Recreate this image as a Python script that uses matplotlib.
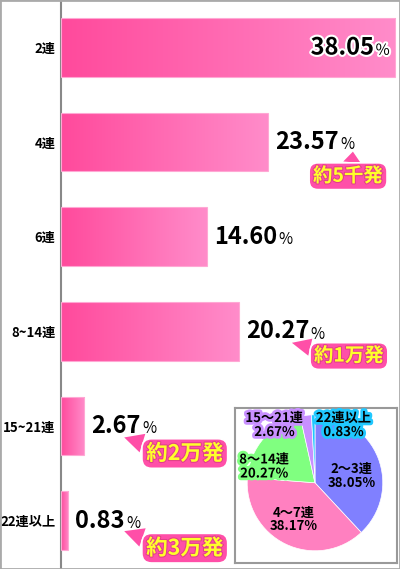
import matplotlib
matplotlib.use('Agg')
import matplotlib.pyplot as plt
import matplotlib.patheffects as pe
from matplotlib.colors import LinearSegmentedColormap
from matplotlib.patches import Rectangle
import numpy as np

plt.rcParams['font.family'] = ['Noto Sans CJK JP', 'DejaVu Sans']

# bar chart data
categories = ['2連', '4連', '6連', '8~14連', '15~21連', '22連以上']
percents = [38.05, 23.57, 14.60, 20.27, 2.67, 0.83]
# lengths as drawn in the picture (6連 bar is drawn longer than its label says)
bar_lengths = [38.05, 23.57, 16.6, 20.27, 2.67, 0.83]
callouts = [None, '約5千発', None, '約1万発', '約2万発', '約3万発']

# pie inset data
pie_labels = ['2～3連', '4～7連', '8～14連', '15～21連', '22連以上']
pie_values = [38.05, 38.17, 20.27, 2.67, 0.83]
pie_colors = ['#8080ff', '#ff80c0', '#80ff80', '#c890ff', '#20c8ff']

# layout bits
# callout: (box centre x, box centre dy, tip x, tip dy, relpos, fontsize)
callout_layout = {
    1: (32.7, 0.36, 33.25, 0.10, (0.55, 1.0), 14),
    3: (32.8, 0.26, 26.3, 0.12, (0.08, 0.85), 14),
    4: (14.1, 0.29, 7.2, 0.12, (0.08, 0.85), 15.5),
    5: (14.1, 0.29, 7.2, 0.11, (0.08, 0.85), 15.5),
}
pie_text_pos = [(0.54, 0.10), (-0.31, -0.54), (-0.75, 0.24), (-0.60, 0.85), (0.42, 0.85)]
pie_strokes = [None, None, '#80ff80', '#c890ff', '#20c8ff']

W, H = 400, 569
fig = plt.figure(figsize=(W / 100, H / 100), dpi=100)
fig.patches.append(Rectangle((0, 0), 1, 1, transform=fig.transFigure,
                             fill=False, ec='#aaaaaa', lw=2))

ax = fig.add_axes([61 / W, 0, 338 / W, 1])
ypos = np.arange(len(categories))
bars = ax.barh(ypos, bar_lengths, height=0.62, color='none',
               edgecolor='#ffa8d4', lw=0.8, zorder=3)

# horizontal pink gradient inside each bar
cmap = LinearSegmentedColormap.from_list('pk', ['#ff4a9c', '#ff8cca'])
grad = np.linspace(0, 1, 256).reshape(1, -1)
for b in bars:
    x0, y0, w, h = b.get_x(), b.get_y(), b.get_width(), b.get_height()
    im = ax.imshow(grad, cmap=cmap, extent=[x0, x0 + w, y0 + h, y0],
                   aspect='auto', zorder=2, interpolation='bilinear')
    im.set_clip_path(b)

ax.set_xlim(0, 38.5)
ax.set_ylim(5.51, -0.502)
ax.set_aspect('auto')
for s in ['top', 'right', 'bottom']:
    ax.spines[s].set_visible(False)
ax.spines['left'].set_color('#888888')
ax.spines['left'].set_linewidth(1.5)
ax.set_xticks([])
ax.set_yticks(ypos, categories, fontsize=9.5, fontweight='bold')
ax.tick_params(axis='y', length=0, pad=4)

white = [pe.withStroke(linewidth=3, foreground='white')]
for i, (p, L) in enumerate(zip(percents, bar_lengths)):
    s = '{:.2f}'.format(p)
    if i == 0:
        num = ax.annotate(s, xy=(L, i), xytext=(-15, 0), textcoords='offset points',
                          ha='right', va='center', fontsize=17, fontweight='bold',
                          color='black', path_effects=white, zorder=5)
    else:
        num = ax.annotate(s, xy=(L, i), xytext=(5, 0), textcoords='offset points',
                          ha='left', va='center', fontsize=17, fontweight='bold',
                          color='black', zorder=5)
    ax.annotate('%', xy=(1, 0), xycoords=num, xytext=(1, 0.5), textcoords='offset points',
                ha='left', va='bottom', fontsize=11, color='black',
                path_effects=white if i == 0 else None, zorder=5)

    if callouts[i]:
        cx, cdy, tx, tdy, rp, fs = callout_layout[i]
        ax.annotate(callouts[i], xy=(tx, i + tdy), xytext=(cx, i + cdy),
                    ha='center', va='center', fontsize=fs, fontweight='bold',
                    color='#ffff2a', zorder=6,
                    bbox=dict(boxstyle='round,pad=0.2,rounding_size=0.45',
                              fc='#ff4fa8', ec='white', lw=1.2),
                    arrowprops=dict(arrowstyle='wedge,tail_width=0.9',
                                    fc='#ff4fa8', ec='none', relpos=rp,
                                    shrinkA=0, shrinkB=0),
                    path_effects=[pe.withStroke(linewidth=1.5, foreground='#e0408a')])

# pie inset
pax = fig.add_axes([235 / W, 1 - 563 / H, 162 / W, 155 / H])
pax.pie(pie_values, colors=pie_colors, startangle=90, counterclock=False,
        radius=1, frame=True, wedgeprops=dict(edgecolor='white', linewidth=0.5))
pax.set_xlim(-1.18, 1.21)
pax.set_ylim(-1.18, 1.10)
pax.set_aspect('auto')
pax.set_xticks([])
pax.set_yticks([])
for sp in pax.spines.values():
    sp.set_color('#999999')
    sp.set_linewidth(1.5)

for lab, v, (px, py), sc in zip(pie_labels, pie_values, pie_text_pos, pie_strokes):
    eff = [pe.withStroke(linewidth=4, foreground=sc)] if sc else None
    pax.text(px, py, '{}\n{:.2f}%'.format(lab, v), ha='center', va='center',
             fontsize=9.5, fontweight='bold', linespacing=1.0, color='black',
             path_effects=eff)

plt.savefig('out.png', dpi=100)
